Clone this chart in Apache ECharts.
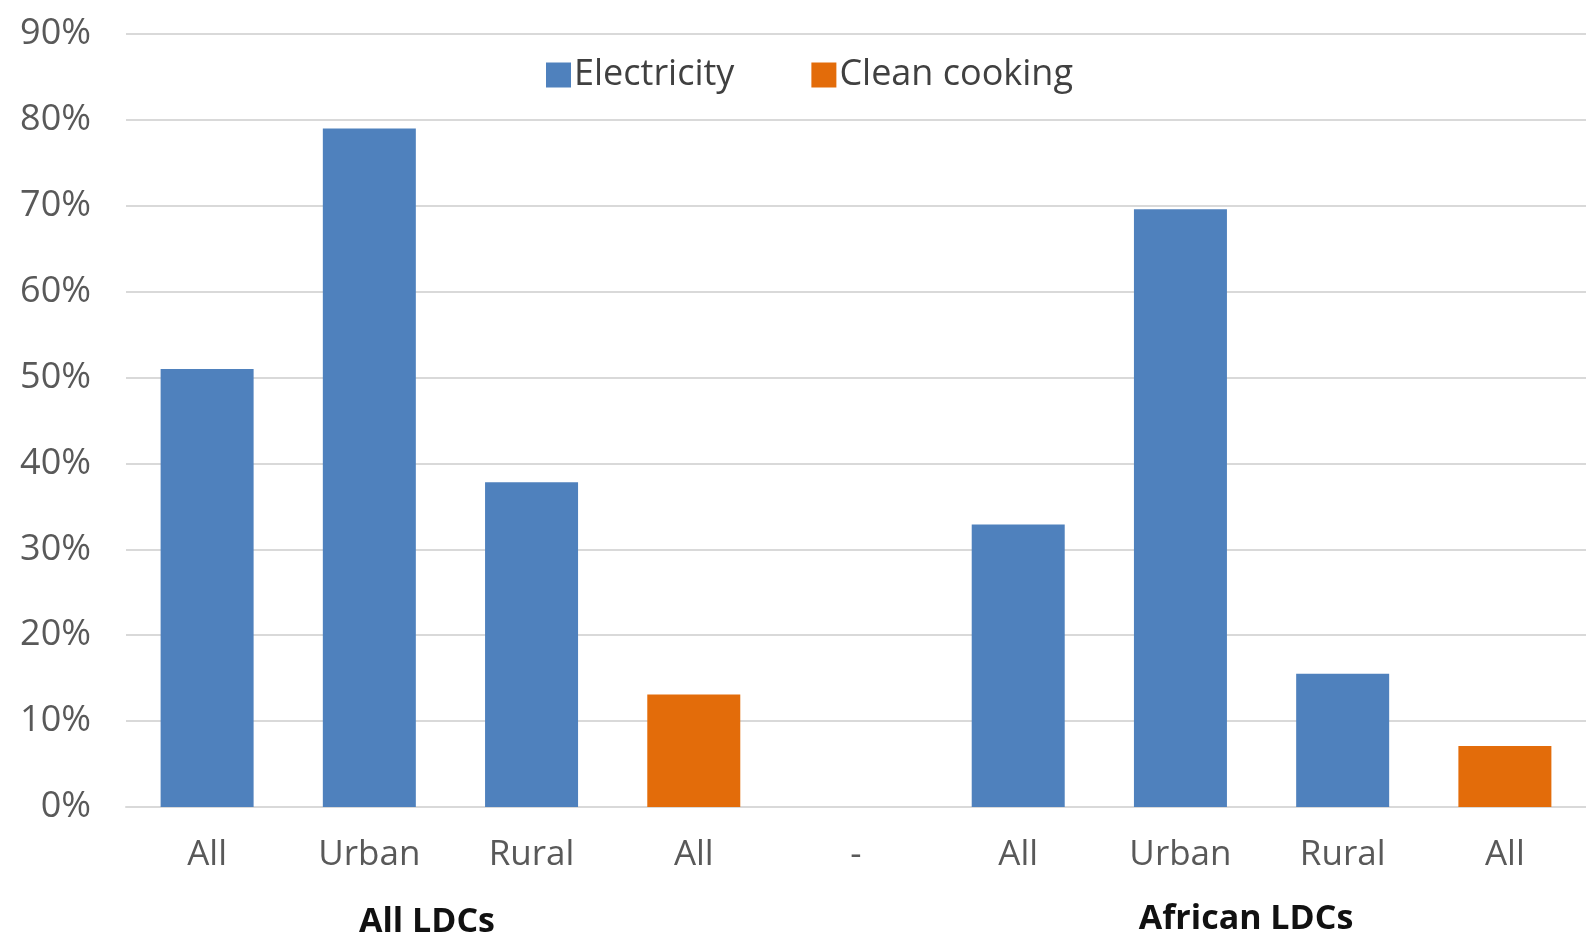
<!DOCTYPE html>
<html>
<head>
<meta charset="utf-8">
<script src="https://cdn.jsdelivr.net/npm/echarts@6/dist/echarts.min.js"></script>
<style>
html,body{margin:0;padding:0;background:#fff;}
#chart{width:1586px;height:936px;}
</style>
</head>
<body>
<div id="chart"></div>
<script>
const categories = ['All', 'Urban', 'Rural', 'All', '-', 'All', 'Urban', 'Rural', 'All'];
const electricity = [51, 79, 37.8, '-', '-', 32.9, 69.6, 15.5, '-'];
const cleanCooking = ['-', '-', '-', 13.1, '-', '-', '-', '-', 7.1];
const groupLabels = ['All LDCs', 'African LDCs'];
const yTicks = { min: 0, max: 90, interval: 10 };

const FONT = '"Open Sans", "Noto Sans", sans-serif';
const chart = echarts.init(document.getElementById('chart'), null, { renderer: 'canvas' });
chart.setOption({
  animation: false,
  backgroundColor: '#ffffff',
  textStyle: { fontFamily: FONT },
  grid: { left: 126, top: 34, width: 1466, height: 773, containLabel: false },
  legend: {
    left: 541, top: 52,
    itemWidth: 25, itemHeight: 25, itemGap: 77,
    icon: 'rect',
    textStyle: { fontFamily: FONT, fontSize: 36, color: '#404040', padding: [0, 0, 0, -2] },
    data: ['Electricity', 'Clean cooking']
  },
  xAxis: {
    type: 'category',
    data: categories,
    axisLine: { show: true, lineStyle: { color: '#d9d9d9', width: 2 } },
    axisTick: { show: false },
    axisLabel: { fontFamily: FONT, fontSize: 35, color: '#595959', margin: 31 }
  },
  yAxis: {
    type: 'value',
    min: yTicks.min, max: yTicks.max, interval: yTicks.interval,
    axisLine: { show: false },
    axisTick: { show: false },
    splitLine: { lineStyle: { color: '#d9d9d9', width: 2 } },
    axisLabel: { fontFamily: FONT, fontSize: 36, color: '#595959', margin: 35, formatter: '{value}%' }
  },
  series: [
    { name: 'Electricity', type: 'bar', stack: 'a', barWidth: 93, data: electricity,
      itemStyle: { color: '#4f81bd' } },
    { name: 'Clean cooking', type: 'bar', stack: 'a', barWidth: 93, data: cleanCooking,
      itemStyle: { color: '#e36c0a' } }
  ],
  graphic: [
    { type: 'text', x: 427, y: 922, style: { text: groupLabels[0], font: 'bold 34px ' + FONT, fill: '#111', align: 'center', verticalAlign: 'middle' } },
    { type: 'text', x: 1246, y: 919, style: { text: groupLabels[1], font: 'bold 34px ' + FONT, fill: '#111', align: 'center', verticalAlign: 'middle' } }
  ]
});
</script>
</body>
</html>
